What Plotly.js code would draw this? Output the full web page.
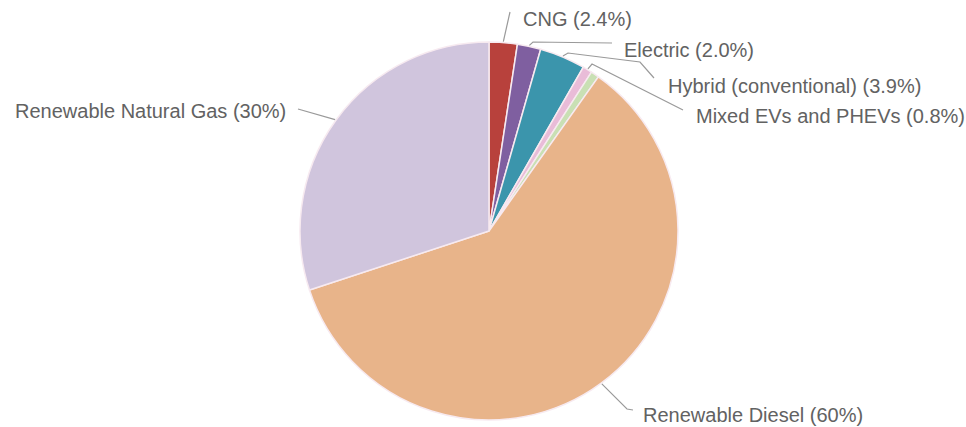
<!DOCTYPE html>
<html><head><meta charset="utf-8">
<script src="https://cdn.plot.ly/plotly-3.0.1.min.js"></script>
<style>html,body{margin:0;padding:0;background:#fff}#chart{width:966px;height:427px}</style>
</head><body><div id="chart"></div>
<script>
const categories = ["CNG","Electric","Hybrid (conventional)","Mixed EVs and PHEVs","Other","Renewable Diesel","Renewable Natural Gas"];
const values = [2.4, 2.0, 3.9, 0.8, 0.7, 60, 30];
const pctLabels = ["2.4%","2.0%","3.9%","0.8%","","60%","30%"];
const colors = ["#b8413c","#7f5fa0","#3b95ac","#e9bcd8","#c9e0b4","#e8b48a","#d0c5dd"];

const W = 966, H = 427, CX = 489, CY = 231, R = 189;
// label placement (pixels) and leader elbows
const labelLayout = {
  0: {tx: 521, ty: 19, anchor: 'left', pts: [[510, 12]]},
  1: {tx: 622, ty: 50, anchor: 'left', pts: [[533, 42], [612, 43]]},
  2: {tx: 666, ty: 86, anchor: 'left', pts: [[568, 53], [640, 62], [654, 78]]},
  3: {tx: 694, ty: 116, anchor: 'left', pts: [[592, 64], [683, 110]]},
  5: {tx: 641, ty: 415, anchor: 'left', pts: [[627, 409], [633, 410]]},
  6: {tx: 288, ty: 111, anchor: 'right', pts: [[298, 109]]}
};

const total = values.reduce((a, b) => a + b, 0);
const px2x = p => p / W, py2y = p => 1 - p / H;
const annotations = [], shapes = [];
let cum = 0;
values.forEach((v, i) => {
  const mid = (cum + v / 2) / total * 2 * Math.PI;
  cum += v;
  const L = labelLayout[i];
  if (!L) return;
  const ax = CX + (R + 1) * Math.sin(mid), ay = CY - (R + 1) * Math.cos(mid);
  let path = 'M ' + px2x(ax) + ' ' + py2y(ay);
  L.pts.forEach(p => { path += ' L ' + px2x(p[0]) + ' ' + py2y(p[1]); });
  shapes.push({type: 'path', xref: 'paper', yref: 'paper', path: path,
    line: {color: '#9a9a9a', width: 1.2}});
  annotations.push({xref: 'paper', yref: 'paper', x: px2x(L.tx), y: py2y(L.ty),
    xanchor: L.anchor, yanchor: 'middle', showarrow: false,
    text: categories[i] + ' (' + pctLabels[i] + ')',
    font: {family: 'Liberation Sans, Arial, sans-serif', size: 20, color: '#626262'}});
});

const trace = {
  type: 'pie', labels: categories, values: values, sort: false,
  direction: 'clockwise', rotation: 0, textinfo: 'none', hoverinfo: 'label+percent',
  marker: {colors: colors, line: {color: '#f7eaf0', width: 1.5}},
  domain: {x: [px2x(CX - R), px2x(CX + R)], y: [py2y(CY + R), py2y(CY - R)]},
  showlegend: false
};
Plotly.newPlot('chart', [trace], {
  width: W, height: H, margin: {l: 0, r: 0, t: 0, b: 0},
  paper_bgcolor: '#fff', showlegend: false,
  annotations: annotations, shapes: shapes
}, {displayModeBar: false, staticPlot: true});
</script></body></html>
